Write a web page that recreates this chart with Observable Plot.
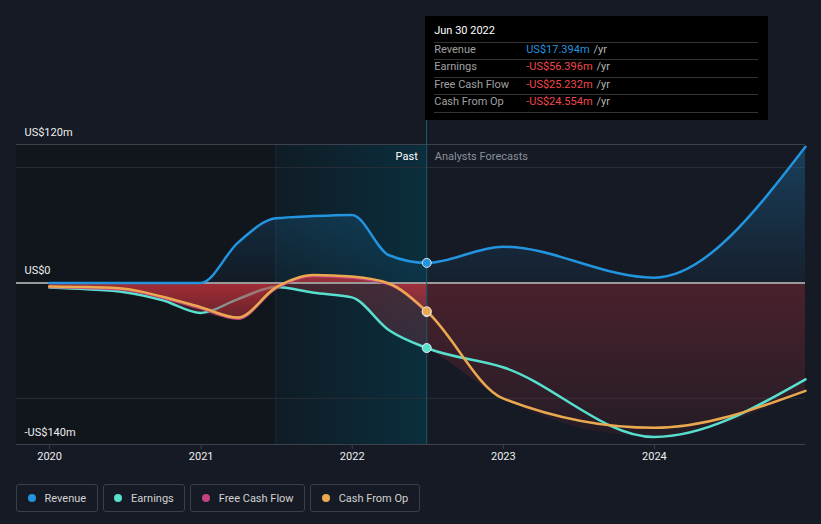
<!DOCTYPE html>
<html>
<head>
<meta charset="utf-8">
<script src="https://cdn.jsdelivr.net/npm/d3@7"></script>
<script src="https://cdn.jsdelivr.net/npm/@observablehq/plot@0.6"></script>
<style>
  body { margin: 0; background: #151a24; font-family: Roboto, sans-serif; }
  #wrap { position: relative; width: 821px; height: 524px; overflow: hidden; background: #151a24; }
  #chart { position: absolute; left: 0; top: 0; }
  #conn { position: absolute; width: 1px; background: #1c5a6d; }
  #tip { position: absolute; background: #000; box-sizing: border-box; padding: 6px 10px 8px 9px; font-size: 11px; color: #a0a0a0; }
  #tip .title { color: #fff; font-weight: 400; height: 20px; line-height: 18px; }
  #tip .row { border-top: 1px solid #333; height: 16.4px; line-height: 14px; display: flex; }
  #tip .row:last-child { border-bottom: 1px solid #333; }
  #tip .lab { width: 92px; }
  #tip .unit { color: #b5b5b5; margin-left: 4px; }
  .legend { position: absolute; left: 16px; top: 484px; display: flex; gap: 5px; }
  .item { height: 26px; border: 1px solid #3a404b; border-radius: 3px; display: flex; align-items: center; padding: 0 10.5px; color: #d2d2d2; font-size: 11px; }
  .dot { width: 8px; height: 8px; border-radius: 50%; margin-right: 9px; }
</style>
</head>
<body>
<div id="wrap">
  <div id="chart"></div>
  <div id="conn"></div>
  <div id="tip"></div>
  <div class="legend" id="legend"></div>
</div>
<script>
// ---- data (US$ millions) ----
const pastDates = ["2019-12-31","2020-03-31","2020-06-30","2020-09-30","2020-12-31","2021-03-31","2021-06-30","2021-09-30","2021-12-31","2022-03-31","2022-06-30"];
const revenuePast  = [0, 0, 0, 0, 0, 35, 56, 58, 59, 24, 17.394];
const earningsPast = [-4, -5.5, -8, -15, -26, -14, -3.5, -8.5, -12.5, -41, -56.396];
const fcfPast      = [-3.5, -4.3, -5.8, -12.8, -22, -31, -5, 6, 4.5, -1.2, -25.232];
const cfoPast      = [-3, -3.6, -5, -12, -21, -30, -4, 7, 5.5, -0.5, -24.554];

const forecastDates = ["2022-06-30","2022-12-31","2023-12-31","2024-12-31"];
const revenueFc  = [17.394, 31.4, 4.6, 118];
const earningsFc = [-56.396, -73, -133.5, -83.5];
const cfoFc      = [-24.554, -100, -125.5, -93.5];

const seriesNames = ["Revenue", "Earnings", "Free Cash Flow", "Cash From Op"];
const seriesColors = ["#2394df", "#58e0cf", "#c2437f", "#eaa94f"];
const yTicks = [120, 0, -140];
const yTickLabels = ["US$120m", "US$0", "-US$140m"];
const xTickYears = ["2020-01-01","2021-01-01","2022-01-01","2023-01-01","2024-01-01"];
const domainDates = ["2019-10-13", "2024-12-31"];
const highlightDates = ["2021-06-30", "2022-06-30"];
const tooltipTitle = "Jun 30 2022";

// ---- build tables ----
const parse = d3.utcParse("%Y-%m-%d");
const pD = pastDates.map(parse);
const fD = forecastDates.map(parse);
const [x0, x1] = domainDates.map(parse);
const [cut1, cut2] = highlightDates.map(parse);

function join(pv, fv) {
  const rows = pv.map((v, i) => ({date: pD[i], value: v}));
  if (fv) fv.slice(1).forEach((v, i) => rows.push({date: fD[i + 1], value: v}));
  return rows;
}
const revRows = join(revenuePast, revenueFc);
const earnRows = join(earningsPast, earningsFc);
const fcfRows = join(fcfPast, null);
const cfoRows = join(cfoPast, cfoFc);
const envRows = earnRows.map((d, i) => {
  const c = cfoRows[i].value;
  const f = i < fcfPast.length ? fcfPast[i] : c;
  return {date: d.date, value: Math.min(d.value, c, f, 0)};
});
const dotRows = [
  {date: cut2, value: revenuePast[revenuePast.length - 1], c: seriesColors[0]},
  {date: cut2, value: earningsPast[earningsPast.length - 1], c: seriesColors[1]},
  {date: cut2, value: fcfPast[fcfPast.length - 1], c: seriesColors[2]},
  {date: cut2, value: cfoPast[cfoPast.length - 1], c: seriesColors[3]}
];

function defs() {
  const d = d3.create("svg:defs");
  const lg = (id, stops, horiz) => {
    const g = d.append("linearGradient").attr("id", id)
      .attr("x1", 0).attr("y1", 0).attr("x2", horiz ? 1 : 0).attr("y2", horiz ? 0 : 1);
    stops.forEach(([o, c, a]) => g.append("stop").attr("offset", o).attr("stop-color", c).attr("stop-opacity", a));
  };
  lg("revGrad", [[0, "#2394df", 0.3], [1, "#2394df", 0.05]]);
  lg("negGrad", [[0, "#b0303c", 0.34], [1, "#b0303c", 0.1]]);
  lg("fcfGrad", [[0, "#c8323c", 0.78], [1, "#c8323c", 0.3]]);
  lg("hlGrad", [[0, "#0f1c25", 1], [1, "#0b2e3d", 1]], true);
  return d.node();
}

const curve = "monotone-x";
const chart = Plot.plot({
  width: 821,
  height: 470,
  marginTop: 144,
  marginBottom: 26,
  marginLeft: 16,
  marginRight: 16,
  style: {background: "transparent", fontFamily: "Roboto, sans-serif", overflow: "visible"},
  x: {type: "utc", domain: [x0, x1], axis: null},
  y: {domain: [-140, 120], axis: null},
  marks: [
    defs,
    Plot.rect([{a: x0, b: cut1}], {x1: "a", x2: "b", fill: "#11151c"}),
    Plot.rect([{a: cut1, b: cut2}], {x1: "a", x2: "b", fill: "url(#hlGrad)"}),
    Plot.ruleX([cut1], {stroke: "#182a33"}),
    Plot.ruleY([100, -100], {stroke: "#292e37"}),
    Plot.ruleY([120], {stroke: "#3c414b"}),
    Plot.ruleY([-140], {stroke: "#3c414b"}),
    Plot.areaY(revRows, {x: "date", y1: 0, y2: "value", fill: "url(#revGrad)", curve}),
    Plot.areaY(envRows, {x: "date", y1: 0, y2: "value", fill: "url(#negGrad)", curve}),
    Plot.line(earnRows, {x: "date", y: "value", stroke: seriesColors[1], strokeWidth: 2.5, curve}),
    Plot.areaY(fcfRows, {x: "date", y1: 0, y2: "value", fill: "url(#fcfGrad)", curve}),
    Plot.ruleY([0], {stroke: "#9a9a9a", strokeWidth: 2}),
    Plot.ruleX([cut2], {stroke: "#1c5a6d"}),
    Plot.line(revRows, {x: "date", y: "value", stroke: seriesColors[0], strokeWidth: 2.5, curve}),
    Plot.line(fcfRows, {x: "date", y: "value", stroke: seriesColors[2], strokeWidth: 2.5, curve}),
    Plot.line(cfoRows, {x: "date", y: "value", stroke: seriesColors[3], strokeWidth: 2.5, curve}),
    Plot.dot(dotRows, {x: "date", y: "value", fill: "c", stroke: "#e8e8e8", strokeWidth: 1, r: 4.5}),
    Plot.text(["Past"], {x: () => cut2, frameAnchor: "top", dy: 12, lineAnchor: "middle", dx: -9, textAnchor: "end", fill: "#ffffff", fontSize: 11}),
    Plot.text(["Analysts Forecasts"], {x: () => cut2, frameAnchor: "top", dy: 12, lineAnchor: "middle", dx: 8, textAnchor: "start", fill: "#8b9099", fontSize: 11}),
    Plot.axisX(xTickYears.map(parse), {tickFormat: d3.utcFormat("%Y"), tickSize: 5, tickPadding: 3, stroke: "#3c414b", fill: "#eeeeee", fontSize: 11}),
    Plot.text(yTicks, {y: d => d, text: (d, i) => yTickLabels[i], frameAnchor: "left", textAnchor: "start", dx: 8, dy: -12.5, fill: "#eeeeee", fontSize: 11})
  ]
});
document.getElementById("chart").appendChild(chart);

// ---- tooltip ----
const px = chart.scale("x").apply(cut2);
const yTop = chart.scale("y").apply(120);
const tip = document.getElementById("tip");
tip.style.left = (px - 1) + "px";
tip.style.top = "16px";
tip.style.width = "343px";
tip.style.height = "104px";
const conn = document.getElementById("conn");
conn.style.left = (px - 0.5) + "px";
conn.style.top = "16px";
conn.style.height = (yTop - 16) + "px";

const fmt = v => (v < 0 ? "-US$" : "US$") + Math.abs(v).toFixed(3) + "m";
const tipVals = [revenuePast, earningsPast, fcfPast, cfoPast].map(a => a[a.length - 1]);
let html = `<div class="title">${tooltipTitle}</div>`;
seriesNames.forEach((n, i) => {
  const v = tipVals[i];
  const col = v < 0 ? "#f0474d" : "#2394df";
  html += `<div class="row"><span class="lab">${n}</span><span style="color:${col}">${fmt(v)}</span><span class="unit">/yr</span></div>`;
});
tip.innerHTML = html;

// ---- legend ----
const leg = document.getElementById("legend");
seriesNames.forEach((n, i) => {
  const it = document.createElement("div");
  it.className = "item";
  it.innerHTML = `<span class="dot" style="background:${seriesColors[i]}"></span><span>${n}</span>`;
  leg.appendChild(it);
});
</script>
</body>
</html>
